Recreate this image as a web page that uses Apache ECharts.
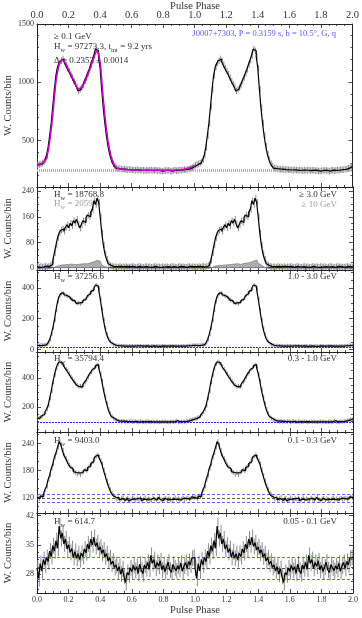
<!DOCTYPE html>
<html>
<head>
<meta charset="utf-8">
<script src="https://cdn.jsdelivr.net/npm/echarts@6/dist/echarts.min.js"></script>
<style>
html,body{margin:0;padding:0;background:#fff}
#main{width:362px;height:618px}
</style>
</head>
<body>
<div id="main"></div>
<script>
// one rotation of each profile, 100 bins; drawn twice (phase 0-2)
var profAll = [288,292,298,305,316,335,370,440,540,650,
  790,940,1060,1130,1165,1185,1200,1178,1150,1120,
  1095,1070,1040,1010,985,960,925,940,955,975,
  1010,1040,1075,1110,1150,1190,1230,1285,1270,1220,
  1120,940,780,650,540,450,385,335,300,280,
  262,258,256,255,252,254,250,249,251,248,
  247,246,244,248,245,243,246,244,240,245,
  242,244,246,241,243,245,240,242,238,236,
  240,243,241,244,238,236,242,245,240,243,
  246,244,247,250,248,252,255,260,266,276];
// fit to the >=0.1 GeV profile, every 0.02 in phase
var fitAll = [286,295,312,345,490,720,1000,1150,1190,1165,
  1108,1055,998,945,950,992,1058,1130,1210,1270,
  1170,860,595,418,318,272,257,253,250,248,
  247,246,245,245,244,244,243,243,243,243,
  243,243,244,244,245,246,249,254,262,272,286];
var prof3GeV = [5,3,6,4,5,7,4,6,8,12,
  25,48,72,95,110,118,122,115,128,135,
  126,140,132,148,141,152,138,125,135,148,
  142,158,165,160,175,182,210,198,218,205,
  160,110,72,45,28,15,9,6,5,4,
  5,3,6,4,5,4,6,3,5,4,6,5,3,4,6,5,4,3,5,6,
  4,5,3,4,6,5,4,5,3,6,4,5,5,3,4,6,5,4,3,5,
  6,4,5,4,3,5,6,4,5,4];
var prof10GeV = [1,0,1,1,0,1,1,0,1,2,
  3,5,7,8,9,10,9,11,10,12,
  11,13,12,11,13,12,14,13,12,14,
  15,14,16,17,18,20,22,24,26,22,
  16,10,5,3,2,1,1,0,1,1,
  1,0,1,0,1,1,0,1,0,1,1,0,1,1,0,1,0,1,1,0,
  1,0,1,1,0,1,1,0,1,0,1,1,0,1,0,1,1,0,1,1,
  0,1,0,1,1,0,1,1,0,1];
var prof1to3 = [28,26,30,27,32,30,35,45,65,98,
  140,190,255,310,345,362,368,355,350,345,
  338,330,322,315,305,298,302,296,305,318,
  325,335,350,362,375,385,400,418,410,390,
  330,260,195,140,100,72,52,40,32,28,
  27,25,26,24,25,23,24,22,25,23,24,22,23,25,22,24,21,23,22,24,
  23,21,22,24,20,22,23,21,22,24,23,22,21,23,22,24,21,22,23,22,
  21,23,24,22,23,25,24,26,27,28];
var prof03to1 = [120,125,130,140,150,165,185,210,260,310,
  370,420,465,495,512,505,495,480,462,448,
  430,412,395,380,365,350,340,345,338,355,
  370,385,405,425,440,458,470,485,492,470,
  430,380,320,270,225,185,155,135,122,112,
  108,104,102,100,103,99,101,98,100,102,97,99,101,98,96,100,99,97,98,101,
  99,96,98,100,97,99,98,96,97,100,98,99,97,95,98,100,97,99,105,98,
  97,99,100,98,101,103,106,110,113,117];
var prof01to03 = [121,118,124,122,127,138,145,160,170,185,
  195,210,220,232,245,238,226,214,208,200,
  193,188,184,178,176,172,175,171,176,178,
  182,180,187,190,196,200,207,212,215,210,
  203,195,182,170,158,147,138,130,125,121,
  117,120,115,118,121,114,117,119,113,116,120,117,114,118,116,119,113,117,120,115,
  118,116,114,119,117,115,118,121,116,114,117,119,115,118,116,113,117,120,116,118,
  115,117,119,116,118,120,117,119,122,120];
var prof005to01 = [29.5,27.0,30.5,28.8,31.5,30.2,32.0,31.0,33.5,32.2,
  34.8,33.5,36.0,34.2,39.5,36.5,37.8,35.2,36.4,34.0,
  35.0,33.2,34.1,32.0,33.4,31.8,32.9,31.5,33.0,32.2,
  34.0,33.1,35.2,34.0,36.4,35.0,36.8,34.6,35.5,33.8,
  34.5,33.0,33.8,32.1,32.9,31.2,31.9,30.4,31.1,29.6,
  30.2,28.8,29.8,28.0,29.3,27.5,26.0,28.4,27.8,29.5,
  28.6,30.1,28.9,29.8,28.2,30.4,29.0,28.1,30.2,29.3,
  30.8,29.2,32.5,30.6,31.5,29.4,30.8,29.9,31.2,29.0,
  30.1,28.6,29.7,30.9,29.0,28.4,30.3,29.5,28.8,30.0,
  29.2,30.6,28.7,29.9,30.8,29.4,31.0,30.2,31.8,32.0];

var profiles = [profAll, prof3GeV, prof1to3, prof03to1, prof01to03, prof005to01];
var errs = [28, 10, 12, 14, 5, 1.9];
var yMin = [100, -5.3, -15.6, 27.6, 86, 23.5];
var yMax = [1500, 252.5, 515, 579, 266, 42.6];
var yLabels = [[500,1000,1500],[0,80,160,240],[0,200,400],[200,400],[120,180,240],[28,35,42]];
var yMinorStep = [100, 20, 50, 50, 20, 1.75];
var bgLevel = [245, 2, 17, 92, 118, 29.3];
var bgLow = [238, null, null, null, 109, 26.8];
var bgHigh = [252, null, null, null, 127, 32.1];

var FONT = '"Liberation Serif", "DejaVu Serif", serif';
var gridTop = [24, 187, 270, 352, 432, 513];
var gridH = [163, 83, 82, 80, 81, 80];

function histData(vals) {
  var d = [];
  for (var c = 0; c < 2; c++) {
    vals.forEach(function (v, i) { d.push([c + i / vals.length, v]); });
  }
  d.push([2, vals[vals.length - 1]]);
  return d;
}
function centerData(vals) {
  var d = [];
  for (var c = 0; c < 2; c++) {
    vals.forEach(function (v, i) { d.push([c + (i + 0.5) / vals.length, v]); });
  }
  return d;
}

var grids = [], xAxes = [], yAxes = [], series = [];
var tickStyle = {color: '#222', width: 0.8};

for (var i = 0; i < 6; i++) {
  grids.push({left: 37, right: 9, top: gridTop[i], height: gridH[i]});

  ['bottom', 'top'].forEach(function (pos) {
    var showLab = (pos === 'top' && i === 0) || (pos === 'bottom' && i === 5);
    xAxes.push({
      gridIndex: i, type: 'value', position: pos, min: 0, max: 2, interval: 0.2,
      axisLine: {show: true, onZero: false, lineStyle: {color: '#222', width: 1}},
      axisTick: {inside: true, length: 4, lineStyle: tickStyle},
      minorTick: {show: true, splitNumber: 4, length: 2, lineStyle: tickStyle},
      splitLine: {show: false}, minorSplitLine: {show: false},
      axisLabel: {show: showLab, formatter: function (v) { return v.toFixed(1); },
        fontFamily: FONT, fontSize: pos === 'top' ? 10.5 : 8, color: '#333', margin: 3}
    });
  });

  var minors = [];
  var step = yMinorStep[i];
  for (var v = Math.ceil(yMin[i] / step) * step; v <= yMax[i] + 1e-9; v += step) {
    var r = Math.round(v * 100) / 100;
    if (yLabels[i].indexOf(r) < 0) minors.push(r);
  }

  [['left', true, yLabels[i], 4], ['right', false, yLabels[i], 4],
   ['left', false, minors, 2], ['right', false, minors, 2]].forEach(function (a, k) {
    yAxes.push({
      gridIndex: i, type: 'value', position: a[0], min: yMin[i], max: yMax[i],
      axisLine: {show: k < 2, onZero: false, lineStyle: {color: '#222', width: 1}},
      axisTick: {show: true, inside: true, length: a[3], customValues: a[2], lineStyle: tickStyle},
      splitLine: {show: false},
      axisLabel: {show: a[1], customValues: a[2], formatter: function (v) { return String(v); },
        fontFamily: FONT, fontSize: 8, color: '#333', margin: 3}
    });
  });

  var xb = 2 * i, yl = 4 * i;
  var err = errs[i];

  // error bars
  series.push({
    type: 'custom', xAxisIndex: xb, yAxisIndex: yl, clip: true, z: 2,
    data: centerData(profiles[i]),
    encode: {x: 0, y: 1},
    renderItem: (function (e) {
      return function (params, api) {
        var x = api.value(0), y = api.value(1);
        var p1 = api.coord([x, y - e]), p2 = api.coord([x, y + e]);
        return {type: 'line', shape: {x1: p1[0], y1: p1[1], x2: p2[0], y2: p2[1]},
          style: {stroke: '#8c8c8c', lineWidth: 1}};
      };
    })(err)
  });

  // background levels
  var ml = [];
  if (i === 0) {
    [bgLow[0], bgLevel[0], bgHigh[0]].forEach(function (y) {
      ml.push({yAxis: y, lineStyle: {color: '#a8a8ff', type: [1, 1], width: 1}});
    });
  } else if (i === 1) {
    ml.push({yAxis: bgLevel[i], lineStyle: {color: '#1c1c90', type: 'solid', width: 1.2}});
  } else if (i === 2 || i === 3) {
    ml.push({yAxis: bgLevel[i], lineStyle: {color: '#2a2aee', type: [2, 1], width: 1.2}});
  } else {
    ml.push({yAxis: bgHigh[i], lineStyle: {color: '#4040ff', type: [3, 2], width: 0.8}});
    ml.push({yAxis: bgLevel[i], lineStyle: {color: '#333', type: [3, 2], width: 0.8}});
    ml.push({yAxis: bgLow[i], lineStyle: {color: '#4040ff', type: [3, 2], width: 0.8}});
  }

  if (i === 1) {
    series.push({
      type: 'line', xAxisIndex: xb, yAxisIndex: yl, step: 'end', symbol: 'none', z: 3,
      data: histData(prof10GeV),
      lineStyle: {color: '#808080', width: 0.8},
      areaStyle: {color: '#9a9a9a', opacity: 0.8}
    });
  }

  series.push({
    type: 'line', xAxisIndex: xb, yAxisIndex: yl, step: 'end', symbol: 'none', z: 4,
    data: histData(profiles[i]),
    lineStyle: {color: '#000', width: 1.2},
    markLine: {silent: true, symbol: 'none', label: {show: false}, data: ml, z: 3}
  });

  if (i === 0) {
    series.push({
      type: 'line', xAxisIndex: xb, yAxisIndex: yl, symbol: 'none', smooth: 0.3, z: 5,
      data: fitAll.map(function (v, k) { return [k * 0.02, v]; }),
      lineStyle: {color: '#cc00cc', width: 1.5}
    });
  }
}

var base = {fontFamily: FONT, fontSize: 9, fill: '#333', padding: [0, 0, 2, 0], verticalAlign: 'bottom'};
var sub = {fontFamily: FONT, fontSize: 6.5, fill: '#333', verticalAlign: 'bottom'};
var richDark = {a: base, s: sub};
var richGrey = {a: Object.assign({}, base, {fill: '#a0a0a0'}), s: Object.assign({}, sub, {fill: '#a0a0a0'})};

function txt(x, y, s, opt) {
  opt = opt || {};
  var style = {text: s, x: 0, y: 0, align: opt.align || 'left', verticalAlign: 'middle',
    fontFamily: FONT, fontSize: opt.size || 9, fill: opt.color || '#333'};
  if (opt.rich) style.rich = opt.rich;
  return {type: 'text', x: x, y: y, rotation: opt.rot || 0, z: 1, style: style};
}

var graphics = [
  txt(195, 6, 'Pulse Phase', {align: 'center', size: 10.5}),
  txt(195, 610, 'Pulse Phase', {align: 'center', size: 10.5}),
  txt(54, 37, '≥ 0.1 GeV'),
  txt(54, 48, '{a|H}{s|w}{a| = 97273.3, t}{s|int}{a| = 9.2 yrs}', {rich: richDark}),
  txt(54, 61, 'Δ = 0.2353 ± 0.0014'),
  txt(336, 34, 'J0007+7303, P = 0.3159 s, b = 10.5°, G, q', {align: 'right', color: '#5a5af5', size: 8.5}),
  txt(54, 196, '{a|H}{s|w}{a| = 18768.8}', {rich: richDark}),
  txt(54, 205, '{a|H}{s|w}{a| = 2059.7}', {rich: richGrey}),
  txt(337, 195, '≥ 3.0 GeV', {align: 'right'}),
  txt(337, 205, '≥ 10 GeV', {align: 'right', color: '#a0a0a0'}),
  txt(54, 278, '{a|H}{s|w}{a| = 37256.6}', {rich: richDark}),
  txt(337, 277, '1.0 - 3.0 GeV', {align: 'right'}),
  txt(54, 360, '{a|H}{s|w}{a| = 35794.4}', {rich: richDark}),
  txt(337, 359, '0.3 - 1.0 GeV', {align: 'right'}),
  txt(54, 442, '{a|H}{s|w}{a| = 9403.0}', {rich: richDark}),
  txt(337, 441, '0.1 - 0.3 GeV', {align: 'right'}),
  txt(54, 523, '{a|H}{s|w}{a| = 614.7}', {rich: richDark}),
  txt(337, 522, '0.05 - 0.1 GeV', {align: 'right'})
];
for (var j = 0; j < 6; j++) {
  graphics.push(txt(8, gridTop[j] + gridH[j] / 2, 'W. Counts/bin',
    {align: 'center', size: 10.5, rot: Math.PI / 2}));
}

var chart = echarts.init(document.getElementById('main'));
chart.setOption({
  animation: false,
  backgroundColor: '#fff',
  grid: grids,
  xAxis: xAxes,
  yAxis: yAxes,
  series: series,
  graphic: {elements: graphics}
});
</script>
</body>
</html>
